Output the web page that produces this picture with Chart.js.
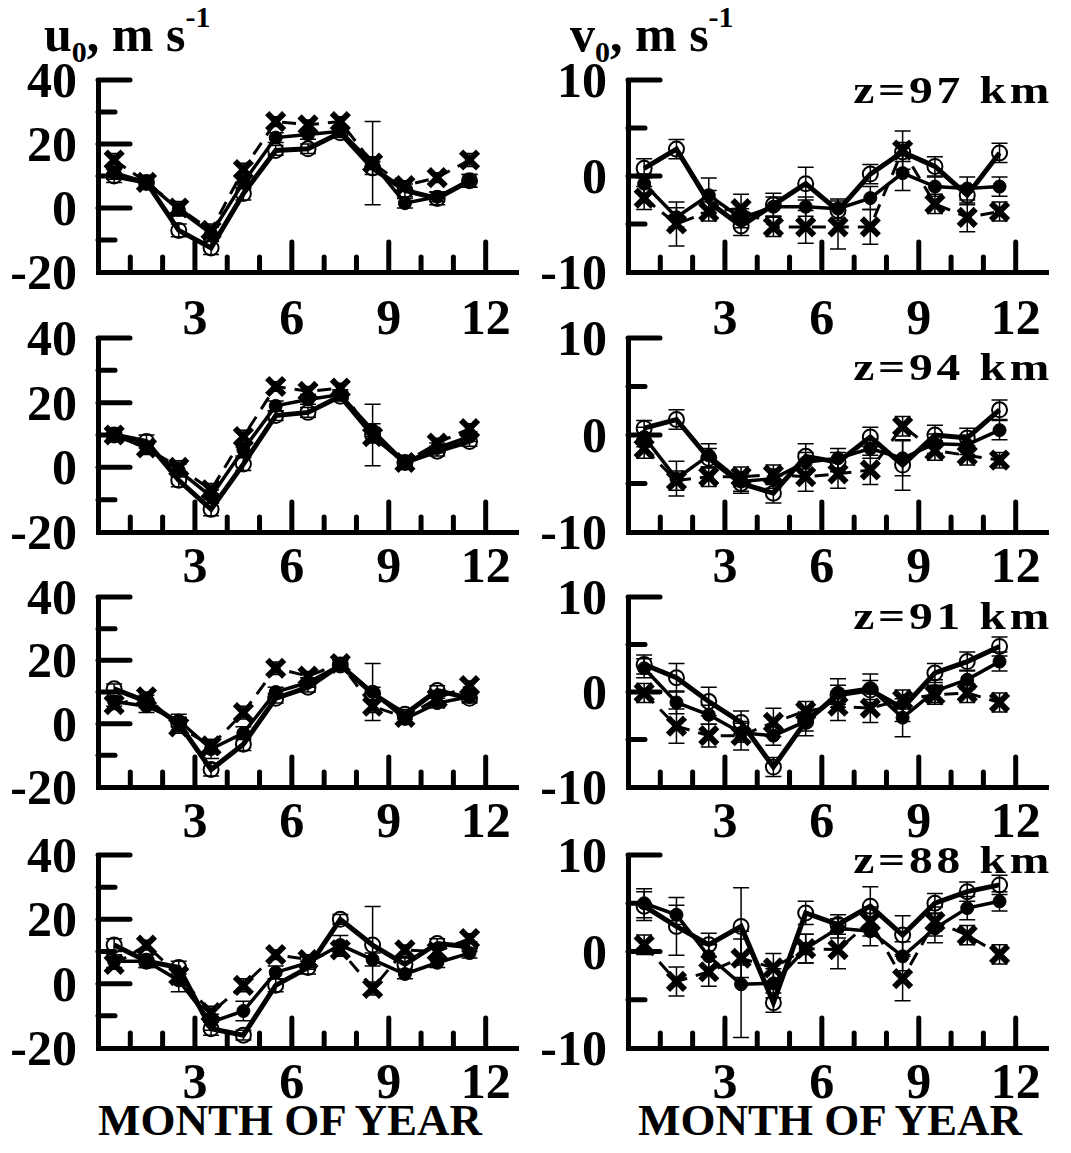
<!DOCTYPE html>
<html><head><meta charset="utf-8">
<script src="https://cdn.jsdelivr.net/npm/chart.js@4.4.1/dist/chart.umd.min.js"></script>
<style>
body{margin:0;background:#fff;width:1071px;height:1153px;position:relative;overflow:hidden;font-family:"Liberation Serif","Times New Roman",serif;font-weight:bold;color:#000}
canvas{position:absolute}
.t{position:absolute;line-height:1;white-space:nowrap}
.h{font-size:50px}
.h sub{font-size:0.6em;vertical-align:-0.35em}
.h sup{font-size:0.6em;vertical-align:0.8em}
.m{font-size:45px;width:530px;text-align:center}
</style></head><body>
<div class="t h" style="left:44px;top:2px">u<sub>0</sub>, m s<sup>-1</sup></div>
<div class="t h" style="left:570px;top:2px">v<sub>0</sub>, m s<sup>-1</sup></div>
<div class="t m" style="left:25px;top:1098px">MONTH OF YEAR</div>
<div class="t m" style="left:565px;top:1098px">MONTH OF YEAR</div>
<script>
// ---- data ----
const MONTHS = [0.5,1.5,2.5,3.5,4.5,5.5,6.5,7.5,8.5,9.5,10.5,11.5];
const X_TICK_LABELS = ['3','6','9','12'];
const U_TICK_LABELS = ['40','20','0','-20'];
const V_TICK_LABELS = ['10','0','-10'];
const HEIGHTS = ['z=97 km','z=94 km','z=91 km','z=88 km'];

// zonal wind u0 (m/s)
const u97_open   = [10, 8, -7, -12.5, 4.5, 18, 18.5, 23.5, 12.5, 5.5, 3, 8.5];
const u97_filled = [11, 8, -0.5, -8, 8, 22, 23, 24, 14, 1.5, 3.5, 8.5];
const u97_cross  = [15, 8, 0, -7, 12, 27, 26, 27, 14, 7, 9.5, 15];
const u97_open_err   = [2, 2, 2, 2, 2, 1.5, 1.5, 1.5, 2, 2, 2, 2];
const u97_filled_err = [2, 2, 2, 2, 2, 1.5, 1.5, 1.5, 13, 1.5, 1.5, 2];
const u97_cross_err  = [2, 1.5, 2, 2, 2, 1.5, 1.5, 1.5, 2, 1.5, 1.5, 2];

const u94_open   = [10, 8, -4, -13, 1, 16, 17, 22, 10, 1.5, 5, 8];
const u94_filled = [10, 6, -1, -9, 5.5, 19, 21, 22.5, 11.5, 1.5, 6, 9.5];
const u94_cross  = [10, 6, 0, -7, 9.5, 25, 23.5, 24.5, 9.5, 1.5, 7.5, 12];
const u94_open_err   = [1.5, 2, 2, 2, 2, 1.5, 1.5, 1.5, 9.5, 1.5, 1.5, 1.5];
const u94_filled_err = [1.5, 2, 2, 2, 2, 1.5, 1.5, 1.5, 2, 1.5, 1.5, 1.5];
const u94_cross_err  = [1.5, 1.5, 2, 2, 2, 1.5, 1.5, 1.5, 2, 1.5, 1.5, 1.5];

const u91_open   = [11, 7, 0, -14.5, -6.5, 8, 11.5, 18.5, 9.5, 3, 10.5, 8];
const u91_filled = [7, 5.5, 1, -8, -3, 10, 13, 18.5, 10, 1.5, 6.5, 8.5];
const u91_cross  = [6, 8.5, -1, -7, 3.5, 17.5, 15, 19, 5.5, 2, 8, 12];
const u91_open_err   = [1.5, 2, 2, 2, 2, 1.5, 1.5, 1.5, 2, 1.5, 1.5, 1.5];
const u91_filled_err = [1.5, 2, 2, 3, 2, 1.5, 1.5, 1.5, 9, 1.5, 1.5, 1.5];
const u91_cross_err  = [1.5, 1.5, 2, 2, 2, 2, 1.5, 1.5, 2, 1.5, 1.5, 1.5];

const u88_open   = [12, 7, 5, -14, -16, -0.5, 5, 20, 12, 6, 12.5, 11.5];
const u88_filled = [7, 7, 1, -12, -8.5, 3.5, 6.5, 12, 7.5, 3, 6.5, 9.5];
const u88_cross  = [6, 12, 2.5, -9, -0.5, 9, 7.5, 10.5, -1.5, 10.5, 10, 14];
const u88_open_err   = [2, 2, 2, 2, 1.5, 2, 2, 1.5, 12, 2, 1.5, 1.5];
const u88_filled_err = [2, 2, 3.5, 2.5, 3, 2, 2, 3, 2, 1.5, 1.5, 1.5];
const u88_cross_err  = [1.5, 1.5, 2, 2, 2, 1.5, 1.5, 2, 2, 1.5, 1.5, 1.5];

// meridional wind v0 (m/s)
const v97_open   = [0.8, 2.8, -2.7, -5.2, -3.0, -0.8, -3.6, 0.2, 2.5, 1.0, -2.0, 2.4];
const v97_filled = [-0.8, -4.3, -2.0, -4.4, -3.2, -3.2, -3.4, -2.3, 0.3, -1.1, -1.3, -1.1];
const v97_cross  = [-2.3, -5.0, -3.7, -3.4, -5.3, -5.3, -5.3, -5.3, 2.7, -2.9, -4.3, -3.7];
const v97_open_err   = [1, 1, 1.2, 1, 1.2, 1.7, 1, 1, 1, 1, 1, 1];
const v97_filled_err = [1, 1, 1.8, 1, 1, 1, 1, 1.2, 1.8, 1, 1.2, 1];
const v97_cross_err  = [1.2, 2.3, 1, 1.5, 1, 1.7, 2.3, 1.8, 2, 1, 1.5, 1];

const v94_open   = [0.7, 1.6, -2.4, -5.0, -6.0, -2.2, -2.8, -0.2, -3.1, 0.0, -0.3, 2.6];
const v94_filled = [-0.2, -4.5, -2.1, -4.8, -4.5, -2.8, -2.4, -1.4, -2.4, -0.9, -1.0, 0.5];
const v94_cross  = [-1.4, -4.7, -4.3, -4.3, -4.1, -4.3, -4.0, -3.6, 0.9, -1.6, -2.1, -2.6];
const v94_open_err   = [0.8, 1, 1, 1, 1, 1.3, 1, 1, 2.6, 1, 1, 1];
const v94_filled_err = [1, 1.8, 1.2, 1, 1, 1, 1, 1, 1.8, 1, 1, 1];
const v94_cross_err  = [1, 1, 1, 1, 1, 1.5, 1.5, 1.5, 1, 1, 1, 0.8];

const v91_open   = [2.9, 1.5, -1.0, -3.2, -7.9, -3.1, -0.3, 0.2, -1.7, 2.0, 3.2, 4.8];
const v91_filled = [2.5, -1.1, -2.4, -4.3, -4.6, -3.1, -0.1, 0.4, -2.7, 0.1, 1.3, 3.2];
const v91_cross  = [-0.1, -3.6, -4.6, -4.6, -3.2, -2.0, -1.5, -1.7, -0.8, -0.3, -0.1, -1.1];
const v91_open_err   = [1, 1.5, 1.5, 1.2, 1, 1.5, 1, 1, 1.4, 1, 1, 1];
const v91_filled_err = [1, 1.2, 1, 1, 1, 1, 1.5, 1.5, 2, 1.2, 1, 1];
const v91_cross_err  = [1, 1.8, 1.2, 1.5, 1.5, 1, 1.5, 1.5, 1, 1, 1, 1];

const v88_open   = [4.7, 2.6, 0.7, 2.6, -5.3, 4.0, 2.8, 4.7, 1.7, 5.0, 6.2, 6.9];
const v88_filled = [5.0, 3.8, -0.5, -3.4, -3.3, 0.3, 2.4, 2.1, -0.5, 2.4, 4.5, 5.2];
const v88_cross  = [0.7, -3.1, -2.1, -0.7, -1.7, 0.3, 0.2, 3.1, -2.8, 3.1, 1.7, -0.3];
const v88_open_err   = [1.5, 3, 1.2, 4, 1, 1.2, 1, 2, 2, 1, 1, 1];
const v88_filled_err = [1.5, 1, 1.2, 5.5, 1.5, 1.5, 1, 1.5, 1.5, 1.5, 1.2, 1];
const v88_cross_err  = [1, 1.5, 1.5, 2, 1.5, 1.5, 2, 1.5, 2.3, 1.5, 1, 1];

// ---- layout / style ----
const FONT = '"Liberation Serif", "Times New Roman", serif';
const COL_LEFT = [0, 530];
const ROW_TOP = [80, 338, 597, 855];
const ROW_H = [192, 194, 190, 193];
const XLABEL_GAP = [28, 16, 16, 16];
const ZLABEL_BASE = [23, 42, 32, 18];
const PAD_TOP = 40, XAXIS_H = 70, YAXIS_W = 98, PLOT_W = 433, CANVAS_W = 536;

const axisDecor = {
  id: 'axisDecor',
  afterDraw(chart) {
    const {ctx, chartArea: a, scales: {x, y}} = chart;
    const o = chart.options.plugins.axisDecor;
    ctx.save();
    // inward tick marks
    ctx.strokeStyle = '#000'; ctx.lineWidth = 5; ctx.lineCap = 'round';
    for (let m = 1; m <= 12; m++) {
      const px = x.getPixelForValue(m);
      const len = m % 3 === 0 ? 30 : 15;
      ctx.beginPath(); ctx.moveTo(px, a.bottom); ctx.lineTo(px, a.bottom - len); ctx.stroke();
    }
    for (let v = o.min + o.step; v <= o.max + 1e-9; v += o.step) {
      const py = y.getPixelForValue(v);
      const len = o.labels.includes(String(v)) ? 32 : 17;
      ctx.beginPath(); ctx.moveTo(a.left, py); ctx.lineTo(a.left + len, py); ctx.stroke();
    }
    // tick labels
    ctx.fillStyle = '#000';
    ctx.font = 'bold 50px ' + FONT;
    ctx.textAlign = 'center'; ctx.textBaseline = 'alphabetic';
    X_TICK_LABELS.forEach(l => {
      ctx.fillText(l, x.getPixelForValue(Number(l)), a.bottom + o.xgap + 34);
    });
    ctx.textAlign = 'right';
    o.labels.forEach(l => {
      ctx.fillText(l, a.left - 21, y.getPixelForValue(Number(l)) + 17);
    });
    ctx.restore();
    // height label (slightly widened, as in the original figure)
    if (o.ztext) {
      ctx.save();
      ctx.fillStyle = '#000';
      ctx.font = 'bold 38px ' + FONT;
      try { ctx.letterSpacing = '3px'; } catch (e) {}
      ctx.textAlign = 'right'; ctx.textBaseline = 'alphabetic';
      ctx.translate(a.right + 5, a.top + o.zbase);
      ctx.scale(1.25, 1);
      ctx.fillText(o.ztext, 0, 0);
      ctx.restore();
    }
  }
};

const errorBars = {
  id: 'errorBars',
  beforeDatasetsDraw(chart) {
    const {ctx, scales: {x, y}} = chart;
    ctx.save();
    ctx.strokeStyle = '#000'; ctx.lineWidth = 1.5;
    chart.data.datasets.forEach(ds => {
      if (!ds.err) return;
      ds.data.forEach((p, j) => {
        const e = ds.err[j];
        const px = x.getPixelForValue(p.x);
        const t = y.getPixelForValue(p.y + e), b = y.getPixelForValue(p.y - e);
        ctx.beginPath();
        ctx.moveTo(px, t); ctx.lineTo(px, b);
        ctx.moveTo(px - 8, t); ctx.lineTo(px + 8, t);
        ctx.moveTo(px - 8, b); ctx.lineTo(px + 8, b);
        ctx.stroke();
      });
    });
    ctx.restore();
  }
};

function pts(vals) { return MONTHS.map((m, i) => ({x: m, y: vals[i]})); }

function makePanel(col, row, kind, open, filled, cross, eo, ef, ec, ztext) {
  const cv = document.createElement('canvas');
  const H = PAD_TOP + ROW_H[row] + XAXIS_H;
  cv.width = CANVAS_W; cv.height = H;
  cv.style.left = COL_LEFT[col] + 'px';
  cv.style.top = (ROW_TOP[row] - PAD_TOP) + 'px';
  cv.style.width = CANVAS_W + 'px'; cv.style.height = H + 'px';
  document.body.appendChild(cv);
  const isU = kind === 'u';
  const ymin = isU ? -20 : -10, ymax = isU ? 40 : 10, step = isU ? 10 : 5;
  const ylabels = isU ? U_TICK_LABELS : V_TICK_LABELS;
  new Chart(cv, {
    type: 'line',
    data: {
      datasets: [
        {data: pts(cross), err: ec, borderColor: '#000', borderWidth: 3, borderDash: [14, 9],
         pointStyle: 'crossRot', pointRadius: 12, pointBorderWidth: 6, pointBorderColor: '#000',
         pointBackgroundColor: '#000', tension: 0, fill: false, clip: false},
        {data: pts(filled), err: ef, borderColor: '#000', borderWidth: 3.5,
         pointStyle: 'circle', pointRadius: 6.5, pointBorderWidth: 1, pointBorderColor: '#000',
         pointBackgroundColor: '#000', tension: 0, fill: false, clip: false},
        {data: pts(open), err: eo, borderColor: '#000', borderWidth: 5,
         pointStyle: 'circle', pointRadius: 7.5, pointBorderWidth: 2, pointBorderColor: '#000',
         pointBackgroundColor: 'rgba(0,0,0,0)', tension: 0, fill: false, clip: false}
      ]
    },
    options: {
      responsive: false, animation: false, devicePixelRatio: 1,
      layout: {padding: {top: PAD_TOP, right: CANVAS_W - YAXIS_W - PLOT_W, left: 0, bottom: 0}},
      plugins: {
        legend: {display: false}, tooltip: {enabled: false},
        axisDecor: {min: ymin, max: ymax, step: step, labels: ylabels,
                    xgap: XLABEL_GAP[row], ztext: ztext, zbase: ZLABEL_BASE[row]}
      },
      scales: {
        x: {type: 'linear', min: 0, max: 13,
            afterFit(s) { s.height = XAXIS_H; },
            grid: {display: false, drawTicks: false},
            border: {display: true, width: 5, color: '#000'},
            ticks: {display: false, stepSize: 1}},
        y: {type: 'linear', min: ymin, max: ymax,
            afterFit(s) { s.width = YAXIS_W; },
            grid: {display: false, drawTicks: false},
            border: {display: true, width: 5, color: '#000'},
            ticks: {display: false, stepSize: step}}
      }
    },
    plugins: [errorBars, axisDecor]
  });
}

makePanel(0, 0, 'u', u97_open, u97_filled, u97_cross, u97_open_err, u97_filled_err, u97_cross_err, null);
makePanel(1, 0, 'v', v97_open, v97_filled, v97_cross, v97_open_err, v97_filled_err, v97_cross_err, HEIGHTS[0]);
makePanel(0, 1, 'u', u94_open, u94_filled, u94_cross, u94_open_err, u94_filled_err, u94_cross_err, null);
makePanel(1, 1, 'v', v94_open, v94_filled, v94_cross, v94_open_err, v94_filled_err, v94_cross_err, HEIGHTS[1]);
makePanel(0, 2, 'u', u91_open, u91_filled, u91_cross, u91_open_err, u91_filled_err, u91_cross_err, null);
makePanel(1, 2, 'v', v91_open, v91_filled, v91_cross, v91_open_err, v91_filled_err, v91_cross_err, HEIGHTS[2]);
makePanel(0, 3, 'u', u88_open, u88_filled, u88_cross, u88_open_err, u88_filled_err, u88_cross_err, null);
makePanel(1, 3, 'v', v88_open, v88_filled, v88_cross, v88_open_err, v88_filled_err, v88_cross_err, HEIGHTS[3]);
</script>
</body></html>
